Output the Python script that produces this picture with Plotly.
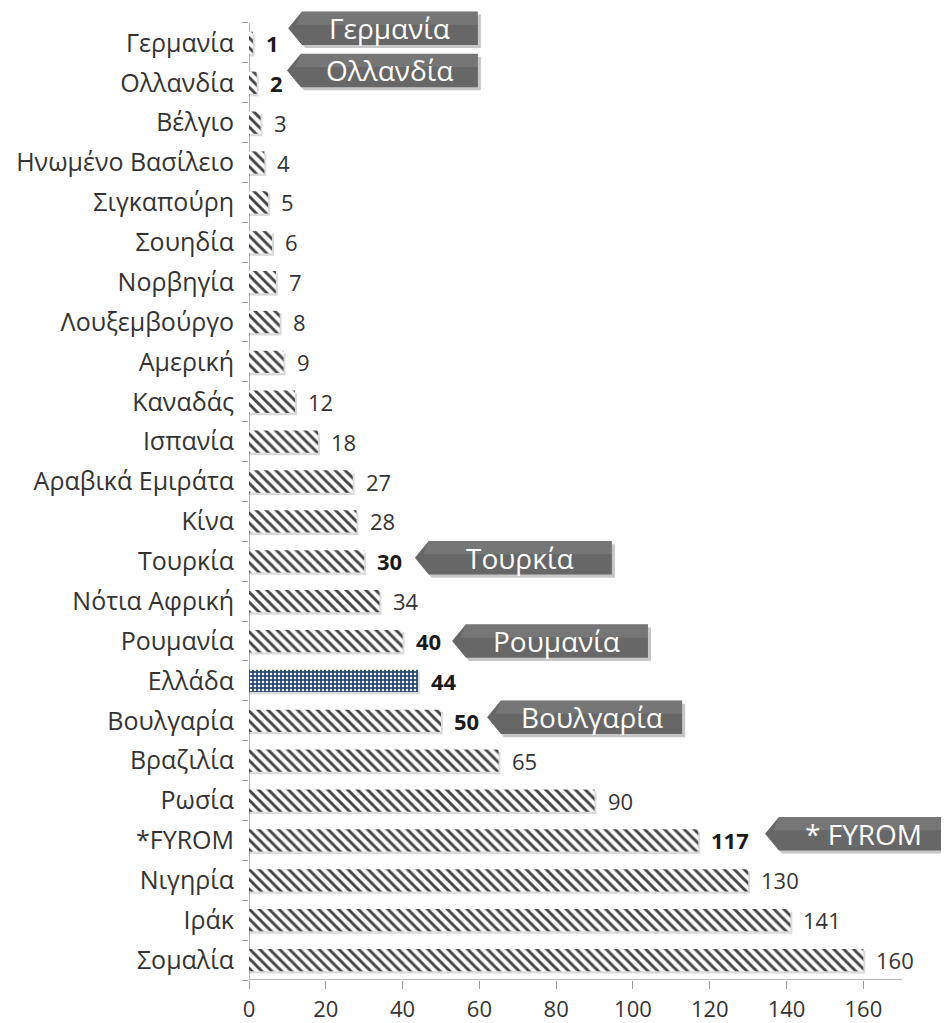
import plotly.graph_objects as go

categories = ["Γερμανία", "Ολλανδία", "Βέλγιο", "Ηνωμένο Βασίλειο", "Σιγκαπούρη",
              "Σουηδία", "Νορβηγία", "Λουξεμβούργο", "Αμερική", "Καναδάς", "Ισπανία",
              "Αραβικά Εμιράτα", "Κίνα", "Τουρκία", "Νότια Αφρική", "Ρουμανία", "Ελλάδα",
              "Βουλγαρία", "Βραζιλία", "Ρωσία", "*FYROM", "Νιγηρία", "Ιράκ", "Σομαλία"]
values = [1, 2, 3, 4, 5, 6, 7, 8, 9, 12, 18, 27, 28, 30, 34, 40, 44, 50, 65, 90, 117, 130, 141, 160]
bold_categories = ["Γερμανία", "Ολλανδία", "Τουρκία", "Ρουμανία", "Ελλάδα", "Βουλγαρία", "*FYROM"]
highlight_category = "Ελλάδα"
x_ticks = [0, 20, 40, 60, 80, 100, 120, 140, 160]

# callouts: (category, label, tip x, right edge x, vertical offset in rows)
callouts = [
    ("Γερμανία", "Γερμανία", 10.2, 59.6, -0.37),
    ("Ολλανδία", "Ολλανδία", 9.9, 59.6, -0.31),
    ("Τουρκία", "Τουρκία", 43.2, 94.5, -0.09),
    ("Ρουμανία", "Ρουμανία", 52.9, 103.9, 0.0),
    ("Βουλγαρία", "Βουλγαρία", 62.0, 112.8, -0.09),
    ("*FYROM", "* FYROM", 134.4, 190.0, -0.17),
]

FONT = "Open Sans"
n = len(categories)
ypos = list(range(n))

fig = go.Figure()

# soft shadow behind bars
fig.add_trace(go.Bar(
    x=[v + 0.5 for v in values], y=ypos, orientation="h", width=0.56, offset=-0.22,
    marker=dict(color="rgba(0,0,0,0.14)", line=dict(width=0)),
    hoverinfo="skip", showlegend=False))

shapes_ = ["." if c == highlight_category else "\\" for c in categories]
bg = ["#2a4873" if c == highlight_category else "white" for c in categories]
fg = ["#6f8db5" if c == highlight_category else "#7c7c7c" for c in categories]
sz = [4 if c == highlight_category else 7 for c in categories]
sol = [0.3 if c == highlight_category else 0.42 for c in categories]
fig.add_trace(go.Bar(
    x=values, y=ypos, orientation="h", width=0.56,
    marker=dict(color=bg, line=dict(width=0),
                pattern=dict(shape=shapes_, bgcolor=bg, fgcolor=fg,
                             fgopacity=1, size=sz, solidity=sol)),
    showlegend=False))

fig.update_layout(barmode="overlay")

annotations = []
for c, v in zip(categories, values):
    is_bold = c in bold_categories
    annotations.append(dict(
        x=v, y=categories.index(c), xref="x", yref="y",
        text=f"<b>{v}</b>" if is_bold else str(v),
        showarrow=False, xanchor="left", yanchor="middle", xshift=11,
        font=dict(family=FONT, size=22, color="#1a1a1a" if is_bold else "#333333")))

shapes = []
tip_len = 3.6
half_h = 0.42
for cat, label, tip, right, dy in callouts:
    yc = categories.index(cat) + dy
    def path(dx=0.0, dyy=0.0):
        return (f"M {tip+dx},{yc+dyy} L {tip+tip_len+dx},{yc-half_h+dyy} "
                f"L {right+dx},{yc-half_h+dyy} L {right+dx},{yc+half_h+dyy} "
                f"L {tip+tip_len+dx},{yc+half_h+dyy} Z")
    shapes.append(dict(type="path", xref="x", yref="y", path=path(0.8, 0.08),
                       fillcolor="rgba(0,0,0,0.22)", line=dict(width=0), layer="above"))
    shapes.append(dict(type="path", xref="x", yref="y", path=path(),
                       fillcolor="#676767", line=dict(width=0), layer="above"))
    shapes.append(dict(type="path", xref="x", yref="y",
                       path=(f"M {tip+tip_len},{yc-half_h} L {right},{yc-half_h} "
                             f"L {right},{yc-half_h*0.2} L {tip+tip_len*0.6},{yc-half_h*0.2} Z"),
                       fillcolor="rgba(255,255,255,0.10)", line=dict(width=0), layer="above"))
    xc = (tip + tip_len + min(right, 182.3)) / 2
    annotations.append(dict(
        x=xc, y=yc, xref="x", yref="y", text=label, showarrow=False,
        xanchor="center", yanchor="middle",
        font=dict(family=FONT, size=28, color="white")))

# axis lines
shapes.append(dict(type="line", xref="x", yref="y", x0=0, x1=170, y0=n - 0.5, y1=n - 0.5,
                   line=dict(color="#9a9a9a", width=1.5), layer="below"))
shapes.append(dict(type="line", xref="x", yref="y", x0=0, x1=0, y0=-0.5, y1=n - 0.5,
                   line=dict(color="#9a9a9a", width=1.5), layer="below"))

fig.update_layout(
    width=941, height=1015,
    margin=dict(l=241, r=0, t=0, b=40),
    plot_bgcolor="white", paper_bgcolor="white",
    font=dict(family=FONT, color="#333333"),
    annotations=annotations, shapes=shapes,
    xaxis=dict(range=[0, 182.3], tickvals=x_ticks, showgrid=False, zeroline=False,
               showline=False, ticks="outside", ticklen=8, tickcolor="#9a9a9a",
               ticklabelstandoff=2,
               tickfont=dict(family=FONT, size=22, color="#333333")),
    yaxis=dict(range=[n - 0.5, -0.875], tickvals=ypos, ticktext=categories,
               showgrid=False, zeroline=False, showline=False, ticks="",
               ticklabelstandoff=14,
               tickfont=dict(family=FONT, size=25, color="#333333"),
               minor=dict(tickvals=[i - 0.5 for i in range(n + 1)], ticks="outside",
                          ticklen=6, tickcolor="#9a9a9a", showgrid=False)),
)

fig.write_html("out.html")
